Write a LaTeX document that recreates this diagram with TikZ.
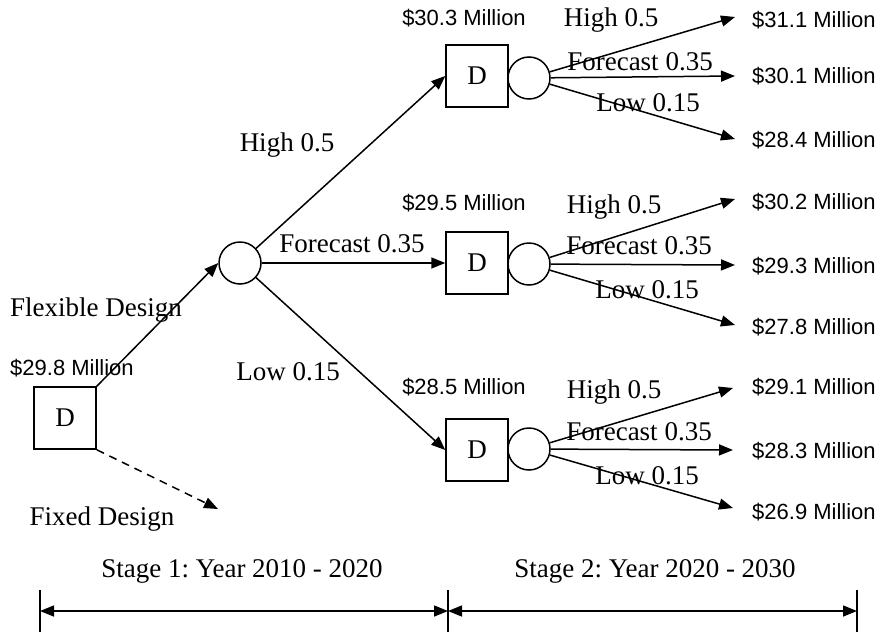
\documentclass[tikz,border=0pt]{standalone}
\usepackage{fontspec}
\setmainfont{Liberation Serif}
\newfontfamily\arialfont{Liberation Sans}
\usetikzlibrary{arrows.meta}
\frenchspacing

\begin{document}
\begin{tikzpicture}[x=1pt,y=-1pt,
  every node/.style={inner sep=0pt},
  lbl/.style={font=\fontsize{27}{30}\selectfont},
  money/.style={font=\arialfont\fontsize{22}{25}\selectfont},
  decision/.style={draw, line width=1.5pt, minimum width=62pt, minimum height=62pt,
    font=\fontsize{27}{30}\selectfont},
  chance/.style={draw, circle, line width=1.5pt, minimum size=42pt},
  link/.style={line width=1.5pt, -{Triangle[length=14pt,width=11pt]}},
  bar/.style={line width=1.5pt, {Triangle[length=14pt,width=11pt]}-{Triangle[length=14pt,width=11pt]}},
  tick/.style={line width=1.5pt}
]
\useasboundingbox (0,0) rectangle (882,637);

% decision and chance nodes
\node[decision] (d0) at (65,418) {D};
\node[chance] (c0) at (240,263) {};
\node[decision] (d1) at (477,76) {D};
\node[decision] (d2) at (477,263) {D};
\node[decision] (d3) at (477,450) {D};
\node[chance] (c1) at (529,78) {};
\node[chance] (c2) at (529,264) {};
\node[chance] (c3) at (529,449) {};

% end points of the outcome branches
\coordinate (e1a) at (735,17);
\coordinate (e1b) at (735,76);
\coordinate (e1c) at (735,139);
\coordinate (e2a) at (735,199);
\coordinate (e2b) at (735,265);
\coordinate (e2c) at (735,325);
\coordinate (e3a) at (733,388);
\coordinate (e3b) at (733,450);
\coordinate (e3c) at (733,508);
\coordinate (fx) at (218,509);

% stage one
\draw[link] (d0.north east) -- (c0.west);
\draw[link, dash pattern=on 8pt off 6pt] (d0.south east) -- (fx);
\draw[link] (c0) -- (d1.west);
\draw[link] (c0) -- (d2.west);
\draw[link] (c0) -- (d3.west);

% stage two
\foreach \g in {1,2,3}{
  \draw[link] (c\g) -- (e\g a);
  \draw[link] (c\g) -- (e\g b);
  \draw[link] (c\g) -- (e\g c);
}

% labels of stage one
\node[money] (v0) at (72,368) {\$29.8 Million};
\node[lbl] (flex) at (96,310) {Flexible Design};
\node[lbl] (fixd) at (102,519) {Fixed Design};
\node[lbl] (h0) at (287,145) {High 0.5};
\node[lbl] (f0) at (352,244) {Forecast 0.35};
\node[lbl] (l0) at (288,372) {Low 0.15};

% values at the stage-two decisions
\node[money] (v1) at (464,18) {\$30.3 Million};
\node[money] (v2) at (464,203) {\$29.5 Million};
\node[money] (v3) at (464,387) {\$28.5 Million};

% branch labels of stage two
\node[lbl] (h1) at (611,20) {High 0.5};
\node[lbl] (f1) at (640,62) {Forecast 0.35};
\node[lbl] (l1) at (648,103) {Low 0.15};
\node[lbl] (h2) at (614,207) {High 0.5};
\node[lbl] (f2) at (639,246) {Forecast 0.35};
\node[lbl] (l2) at (647,290) {Low 0.15};
\node[lbl] (h3) at (614,392) {High 0.5};
\node[lbl] (f3) at (639,432) {Forecast 0.35};
\node[lbl] (l3) at (647,476) {Low 0.15};

% final values
\node[money, anchor=west] (r1a) at (752,20) {\$31.1 Million};
\node[money, anchor=west] (r1b) at (752,76) {\$30.1 Million};
\node[money, anchor=west] (r1c) at (752,140) {\$28.4 Million};
\node[money, anchor=west] (r2a) at (752,202) {\$30.2 Million};
\node[money, anchor=west] (r2b) at (752,266) {\$29.3 Million};
\node[money, anchor=west] (r2c) at (752,327) {\$27.8 Million};
\node[money, anchor=west] (r3a) at (752,387) {\$29.1 Million};
\node[money, anchor=west] (r3b) at (752,451) {\$28.3 Million};
\node[money, anchor=west] (r3c) at (752,512) {\$26.9 Million};

% time line of the two stages
\coordinate (s0) at (40,611);
\coordinate (s1) at (448,611);
\coordinate (s2) at (857,611);
\draw[tick] (40,590) -- (40,632);
\draw[tick] (448,590) -- (448,632);
\draw[tick] (857,590) -- (857,632);
\draw[bar] (s0) -- (s1);
\draw[bar] (s1) -- (s2);
\node[lbl] (st1) at (242,571) {Stage 1: Year 2010 - 2020};
\node[lbl] (st2) at (655,571) {Stage 2: Year 2020 - 2030};
\end{tikzpicture}
\end{document}
